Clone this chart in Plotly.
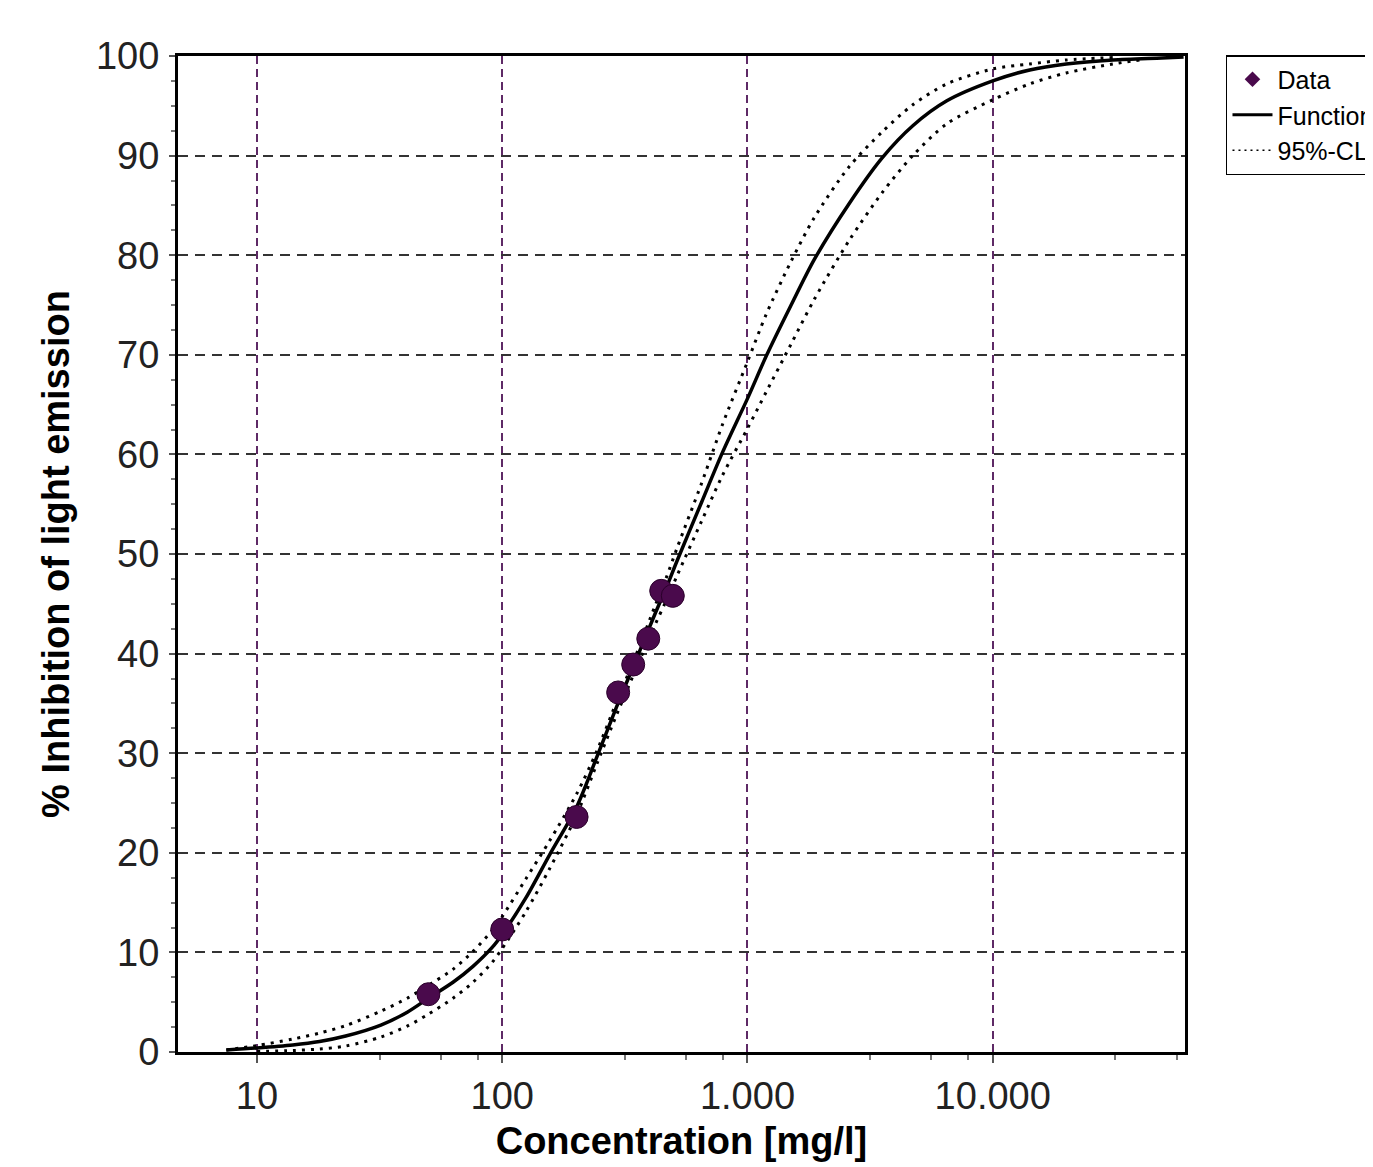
import plotly.graph_objects as go

# ---- data ----
data_conc = [50, 100, 201, 297, 342, 394, 445, 496]
data_inh = [5.8, 12.3, 23.6, 36.1, 38.9, 41.5, 46.3, 45.8]

func_conc = [7.5, 10, 14, 18, 23, 32, 41, 50, 63, 76, 91, 100, 125, 156, 201, 243, 292, 353, 420,
             468, 518, 650, 791, 1000, 1194, 1500, 1876, 2600, 3548, 4722, 6500, 10000, 14150,
             19950, 30900, 49000, 60000]
func_inh = [0.2, 0.4, 0.7, 1.05, 1.6, 2.7, 4.0, 5.4, 7.0, 8.6, 10.5, 11.8, 15.5, 19.8, 24.6, 29.6,
            34.6, 39.5, 44.0, 46.7, 49.4, 55.2, 60.2, 65.6, 69.9, 74.9, 79.6, 85.2, 89.8, 93.0,
            95.5, 97.5, 98.6, 99.2, 99.6, 99.8, 99.9]

cl_upper_conc = [7.5, 10, 14, 18, 23, 32, 41, 50, 63, 76, 91, 100, 125, 156, 201, 243, 292, 353,
                 420, 468, 518, 650, 791, 1000, 1194, 1500, 1876, 2600, 3548, 4722, 6500, 10000,
                 14150, 19950, 30900]
cl_upper_inh = [0.2, 0.65, 1.3, 1.9, 2.65, 4.1, 5.4, 6.7, 8.3, 10.1, 12.2, 13.6, 17.4, 21.2, 25.9,
                30.2, 35.1, 40.0, 44.8, 47.7, 50.7, 57.1, 63.0, 69.3, 74.1, 79.3, 83.8, 88.9, 92.4,
                95.1, 97.2, 98.7, 99.2, 99.6, 99.85]

cl_lower_conc = [10, 14, 18, 23, 32, 41, 50, 63, 76, 91, 100, 125, 156, 201, 243, 292, 353, 420,
                 468, 518, 650, 791, 1000, 1194, 1500, 1876, 2600, 3548, 4722, 6500, 10000, 14150,
                 19950, 30900, 40000]
cl_lower_inh = [0.05, 0.15, 0.3, 0.6, 1.5, 2.6, 3.8, 5.4, 7.0, 9.0, 10.4, 14.1, 18.4, 23.8, 28.9,
                33.8, 38.6, 42.9, 45.4, 47.9, 53.3, 57.9, 62.6, 66.3, 71.0, 75.6, 81.5, 86.3, 90.0,
                93.2, 95.6, 97.2, 98.3, 99.2, 99.6]

x_tick_vals = [10, 100, 1000, 10000]
x_tick_text = ["10", "100", "1.000", "10.000"]
x_minor_vals = [31.6, 56.2, 79.4, 316, 562, 794, 3160, 5620, 7940, 31600, 56200]
y_tick_vals = [0, 10, 20, 30, 40, 50, 60, 70, 80, 90, 100]
y_tick_text = ["0", "10", "20", "30", "40", "50", "60", "70", "80", "90", "100"]

series_names = ["Data", "Function", "95%-CL"]

# ---- styles ----
FONT = "Liberation Sans, Arial, sans-serif"
PURPLE = "#4a0a4c"
GRID_PURPLE = "#5e2a66"
CL_DASH = "3px,6px"

fig = go.Figure()

# confidence limits
for cx, cy in ((cl_upper_conc, cl_upper_inh), (cl_lower_conc, cl_lower_inh)):
    fig.add_trace(go.Scatter(x=cx, y=cy, mode="lines",
                             line=dict(color="black", width=3, dash=CL_DASH, shape="spline",
                                       smoothing=0.8),
                             showlegend=False, hoverinfo="skip"))
# fitted function
fig.add_trace(go.Scatter(x=func_conc, y=func_inh, mode="lines",
                         line=dict(color="black", width=3.5, shape="spline", smoothing=0.8),
                         showlegend=False))
# data points
fig.add_trace(go.Scatter(x=data_conc, y=data_inh, mode="markers",
                         marker=dict(symbol="circle", size=23, color=PURPLE,
                                     line=dict(color="#2a002a", width=1)),
                         showlegend=False))

# legend entries
fig.add_trace(go.Scatter(x=[None], y=[None], mode="markers", name=series_names[0],
                         marker=dict(symbol="diamond", size=12, color=PURPLE),
                         legendgroup="a", legendrank=1))
fig.add_trace(go.Scatter(x=[None], y=[None], mode="lines", name=series_names[1],
                         line=dict(color="black", width=3), legendgroup="b", legendrank=2))
fig.add_trace(go.Scatter(x=[None], y=[None], mode="lines", name=series_names[2],
                         line=dict(color="black", width=1.5, dash="2px,4px"),
                         legendgroup="c", legendrank=3))

fig.update_xaxes(
    type="log", range=[0.678, 4.784],
    tickmode="array", tickvals=x_tick_vals, ticktext=x_tick_text,
    ticks="outside", ticklen=8, tickwidth=2, tickcolor="#555",
    ticklabelstandoff=0,
    showline=True, linewidth=3, linecolor="black", mirror=True,
    showgrid=True, gridcolor=GRID_PURPLE, gridwidth=2, griddash="8px,5px",
    zeroline=False,
    minor=dict(tickmode="array", tickvals=x_minor_vals, ticks="outside", ticklen=5,
               tickwidth=2, tickcolor="#777", showgrid=False),
    tickfont=dict(family=FONT, size=38, color="#222"),
    title=dict(text="<b>Concentration [mg/l]</b>", font=dict(family=FONT, size=38, color="black"),
               standoff=12),
)
fig.update_yaxes(
    range=[0, 100],
    tickmode="array", tickvals=y_tick_vals, ticktext=y_tick_text,
    ticks="outside", ticklen=6, tickwidth=2, tickcolor="#555",
    ticklabelstandoff=2,
    showline=True, linewidth=3, linecolor="black", mirror=True,
    showgrid=True, gridcolor="#333333", gridwidth=2, griddash="10px,7px",
    zeroline=False,
    minor=dict(dtick=2.5, ticks="outside", ticklen=4, tickwidth=1.5, tickcolor="#777",
               showgrid=False),
    tickfont=dict(family=FONT, size=38, color="#222"),
    title=dict(text="<b>% Inhibition of light emission</b>",
               font=dict(family=FONT, size=38, color="black"), standoff=15),
)

# page body has an 8px margin, so the figure is slightly smaller than the window
fig.update_layout(
    width=1365, height=1159,
    margin=dict(l=170, r=188, t=48, b=115, autoexpand=False),
    plot_bgcolor="white", paper_bgcolor="white",
    legend=dict(x=1.0407, y=1.001, xanchor="left", yanchor="top",
                bgcolor="white", bordercolor="black", borderwidth=1.5,
                font=dict(family=FONT, size=25, color="black"),
                tracegroupgap=0, itemwidth=40),
    showlegend=True,
)

fig.write_html("out.html")
